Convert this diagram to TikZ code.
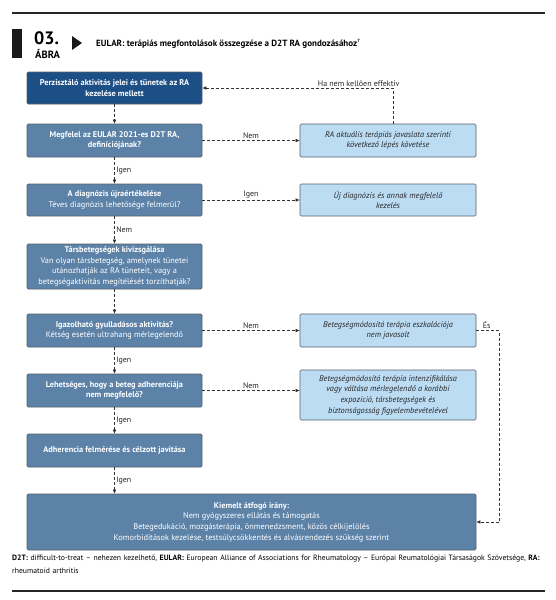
\documentclass[tikz,border=0pt]{standalone}
\usepackage{fontspec}
\setmainfont{PT Sans}
\usetikzlibrary{arrows.meta,calc}
\definecolor{darkb}{HTML}{1B4F86}
\definecolor{midb}{HTML}{5C82A8}
\definecolor{lightb}{HTML}{BCDCF4}
\definecolor{edge}{HTML}{55606A}
\begin{document}
\begin{tikzpicture}[x=1pt,y=-1pt,
  boxbase/.style={draw=edge, line width=0.6pt, rounded corners=1.2pt, align=center, inner sep=0pt,
    font=\fontsize{8.3}{10.6}\selectfont},
  lbox/.style={boxbase, fill=midb, text=white, minimum width=175pt},
  rbox/.style={boxbase, fill=lightb, text=black!85, minimum width=176pt, font=\fontsize{8.3}{10.6}\selectfont\itshape},
  conn/.style={densely dashed, line width=0.5pt, black!80, -{Latex[length=4pt,width=3.5pt]}},
  lab/.style={font=\fontsize{8}{9}\selectfont, text=black!85, inner sep=1.5pt}
]
\useasboundingbox (0,0) rectangle (556,600);
% rules
\draw[line width=1.3pt, black!85] (12,13) -- (545,13);
\draw[line width=1.3pt, black!85] (12,591) -- (545,591);
% header
\fill[black!90] (12,29) rectangle (22,58);
\node[anchor=west, inner sep=0pt, font=\fontsize{18}{18}\selectfont\bfseries] (num) at (34,38.5) {03.};
\node[anchor=west, inner sep=0pt, font=\fontsize{10.5}{10.5}\selectfont\bfseries] (abra) at (35,53.5) {ÁBRA};
\fill[black!90] (72,36) -- (82,43) -- (72,50) -- cycle;
\node[anchor=west, inner sep=0pt, font=\fontsize{9}{9}\selectfont\bfseries] (title) at (96,44) {EULAR: terápiás megfontolások összegzése a D2T RA gondozásához\textsuperscript{\fontsize{4.5}{4.5}\selectfont 7}};
% left boxes
\node[lbox, fill=darkb, minimum height=32pt] (b1) at (114.5,88) {\bfseries Perzisztáló aktivitás jelei és tünetek az RA\\\bfseries kezelése mellett};
\node[lbox, minimum height=33pt] (b2) at (114.5,140.5) {\bfseries Megfelel az EULAR 2021-es D2T RA,\\\bfseries definíciójának?};
\node[lbox, minimum height=32pt] (b3) at (114.5,200) {\bfseries A diagnózis újraértékelése\\Téves diagnózis lehetősége felmerül?};
\node[lbox, minimum height=45pt] (b4) at (114.5,266.5) {\bfseries Társbetegségek kivizsgálása\\Van olyan társbetegség, amelynek tünetei\\utánozhatják az RA tüneteit, vagy a\\betegségaktivitás megítélését torzíthatják?};
\node[lbox, minimum height=33pt] (b5) at (114.5,330.5) {\bfseries Igazolható gyulladásos aktivitás?\\Kétség esetén ultrahang mérlegelendő};
\node[lbox, minimum height=33pt] (b6) at (114.5,390.5) {\bfseries Lehetséges, hogy a beteg adherenciája\\\bfseries nem megfelelő?};
\node[lbox, minimum height=33pt] (b7) at (114.5,450.5) {\bfseries Adherencia felmérése és célzott javítása};
\node[lbox, minimum width=449pt, minimum height=56pt] (b8) at (251.5,522) {\bfseries Kiemelt átfogó irány:\\Nem gyógyszeres ellátás és támogatás\\Betegedukáció, mozgásterápia, önmenedzsment, közös célkijelölés\\Komorbiditások kezelése, testsúlycsökkentés és alvásrendezés szükség szerint};
% right boxes
\node[rbox, minimum height=33pt] (r1) at (388,140.5) {RA aktuális terápiás javaslata szerinti\\következő lépés követése};
\node[rbox, minimum height=32pt] (r2) at (388,200) {Új diagnózis és annak megfelelő\\kezelés};
\node[rbox, minimum height=33pt] (r3) at (388,330.5) {Betegségmódosító terápia eszkalációja\\nem javasolt};
\node[rbox, minimum height=50pt] (r4) at (388,395) {Betegségmódosító terápia intenzifikálása\\vagy váltása mérlegelendő a korábbi\\expozíció, társbetegségek és\\biztonságosság figyelembevételével};
% vertical connectors
\draw[conn] (b1) -- (b2);
\draw[conn] (b2) -- node[lab, right] {Igen} (b3);
\draw[conn] (b3) -- node[lab, right] {Nem} (b4);
\draw[conn] (b4) -- (b5);
\draw[conn] (b5) -- node[lab, right] {Igen} (b6);
\draw[conn] (b6) -- node[lab, right] {Igen} (b7);
\draw[conn] (b7.south) -- node[lab, right] {Igen} (b7.south |- b8.north);
% horizontal connectors
\draw[conn] (b2) -- node[lab, above] {Nem} (r1);
\draw[conn] (b3) -- node[lab, above] {Igen} (r2);
\draw[conn] (b5) -- node[lab, above] {Nem} (r3);
\draw[conn] (b6.east) -- node[lab, above] {Nem} (b6.east -| r4.west);
% feedback loops
\draw[conn] ([xshift=5pt]r1.north) |- node[lab, above, pos=0.59] {Ha nem kellően effektív} (b1.east);
\coordinate (es) at ($(r3.east)+(23,0)$);
\draw[conn] (r3.east) -- node[lab, above, pos=0.45] {És} (es) |- (b8.east);
% footnote
\node[anchor=north west, inner sep=0pt, text width=533pt, align=left, font=\fontsize{7.7}{12.5}\selectfont] (foot) at (12,555)
{\textbf{D2T:} difficult-to-treat – nehezen kezelhető, \textbf{EULAR:} European Alliance of Associations for Rheumatology – Európai Reumatológiai Társaságok Szövetsége, \textbf{RA:} rheumatoid arthritis};
\end{tikzpicture}
\end{document}
